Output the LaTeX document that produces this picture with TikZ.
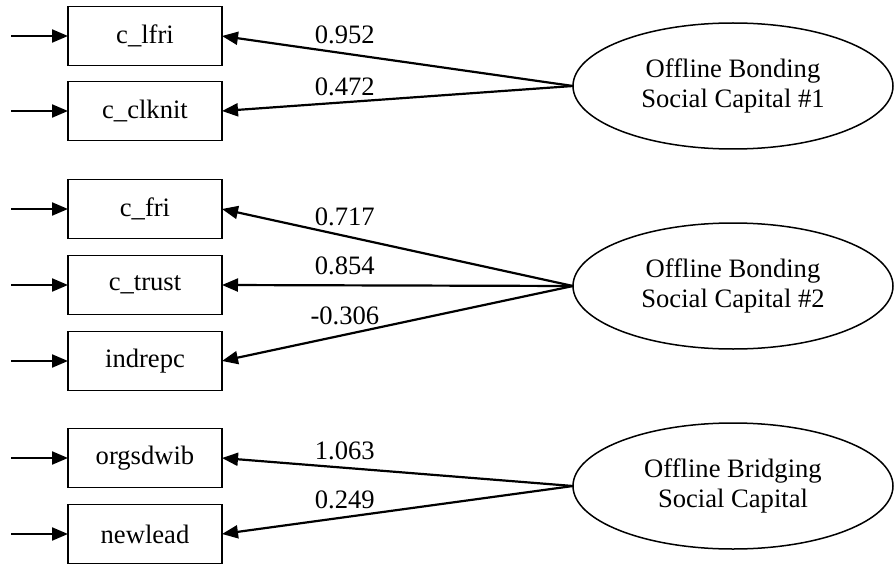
\documentclass[tikz,border=0pt]{standalone}
\usepackage{fontspec}
\setmainfont{Liberation Serif}
\usepackage{tikz}
\usetikzlibrary{positioning, shapes.geometric, arrows.meta}

\tikzset{
	obs/.style={draw, line width=0.75pt, minimum width=77pt, minimum height=29.5pt, inner sep=0pt, outer sep=0pt},
	lat/.style={draw, ellipse, line width=0.75pt, minimum width=160pt, minimum height=63pt, inner sep=0pt, outer sep=0pt, align=center},
	load/.style={line width=1.1pt, -{Triangle[length=8pt, width=6.5pt]}},
	lbl/.style={above, inner sep=4.5pt, pos=0.65},
}

\begin{document}
\begin{tikzpicture}[x=0.5pt, y=-0.5pt, font=\fontsize{13.3}{15}\selectfont]
	\useasboundingbox (0,0) rectangle (894,567);

	\node[obs] (lfri) at (145,36) {c\_lfri};
	\node[obs, below=8pt of lfri] (clknit) {c\_clknit};

	\node[obs, below=19.5pt of clknit] (fri) {c\_fri};
	\node[obs, below=8.5pt of fri] (trust) {c\_trust};
	\node[obs, below=8.5pt of trust] (indrepc) {indrepc};

	\node[obs, below=19pt of indrepc] (orgs) {orgsdwib};
	\node[obs, below=8.5pt of orgs] (newlead) {newlead};

	\node[lat] (bond1) at (733,86) {Offline Bonding\\Social Capital \#1};
	\node[lat] (bond2) at (733,286) {Offline Bonding\\Social Capital \#2};
	\node[lat] (bridge) at (733,486) {Offline Bridging\\Social Capital};

	\foreach \v in {lfri, clknit, fri, trust, indrepc, orgs, newlead} {
		\coordinate[left=28.5pt of \v.west] (e-\v);
		\draw[load] (e-\v) -- (\v.west);
	}

	\draw[load] (bond1.west) -- node[lbl] {0.952} (lfri.east);
	\draw[load] (bond1.west) -- node[lbl, inner sep=2.5pt] {0.472} (clknit.east);

	\draw[load] (bond2.west) -- node[lbl] {0.717} (fri.east);
	\draw[load] (bond2.west) -- node[lbl] {0.854} (trust.east);
	\draw[load] (bond2.west) -- node[lbl] {-0.306} (indrepc.east);

	\draw[load] (bridge.west) -- node[lbl, inner sep=3.5pt] {1.063} (orgs.east);
	\draw[load] (bridge.west) -- node[lbl, inner sep=3.5pt] {0.249} (newlead.east);
\end{tikzpicture}
\end{document}
